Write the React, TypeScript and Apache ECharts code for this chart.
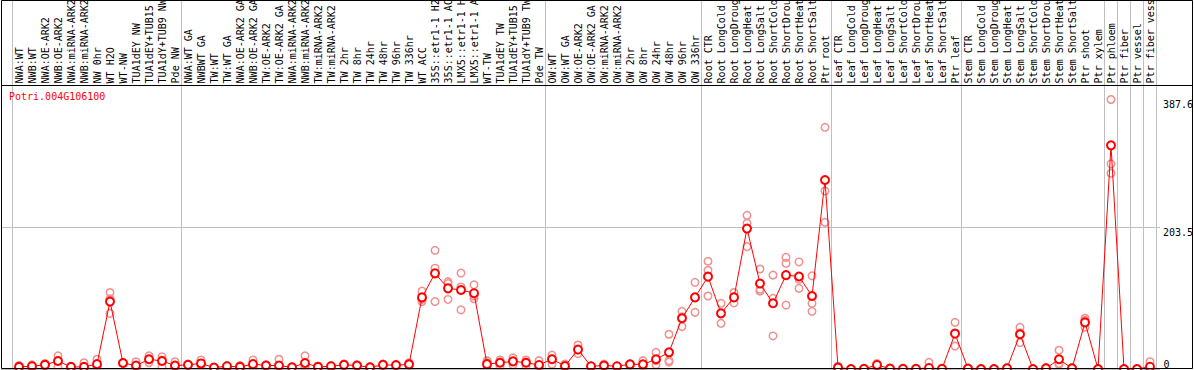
import React, { useEffect, useRef } from 'react';
import * as echarts from 'echarts';

const TITLE = 'Potri.004G106100';

const categories = [
  'NWA:WT', 'NWB:WT', 'NWA:OE-ARK2', 'NWB:OE-ARK2', 'NWA:miRNA-ARK2', 'NWB:miRNA-ARK2',
  'NW 0hr', 'WT H2O', 'WT-NW', 'TUA1dEY NW', 'TUA1dEY+TUB15 NW', 'TUA1dY+TUB9 NW', 'Pde NW',
  'NWA:WT GA', 'NWBWT GA', 'TW:WT', 'TW:WT GA', 'NWA:OE-ARK2 GA', 'NWB:OE-ARK2 GA',
  'TW:OE-ARK2', 'TW:OE-ARK2 GA', 'NWA:miRNA-ARK2 GA', 'NWB:miRNA-ARK2 GA', 'TW:miRNA-ARK2',
  'TW:miRNA-ARK2 GA', 'TW 2hr', 'TW 8hr', 'TW 24hr', 'TW 48hr', 'TW 96hr', 'TW 336hr',
  'WT ACC', '35S::etr1-1 H2O', '35S::etr1-1 ACC', 'LMX5::etr1-1 H2O', 'LMX5::etr1-1 ACC',
  'WT-TW', 'TUA1dEY TW', 'TUA1dEY+TUB15 TW', 'TUA1dY+TUB9 TW', 'Pde TW',
  'OW:WT', 'OW:WT GA', 'OW:OE-ARK2', 'OW:OE-ARK2 GA', 'OW:miRNA-ARK2', 'OW:miRNA-ARK2 GA',
  'OW 2hr', 'OW 8hr', 'OW 24hr', 'OW 48hr', 'OW 96hr', 'OW 336hr',
  'Root CTR', 'Root LongCold', 'Root LongDrought', 'Root LongHeat', 'Root LongSalt',
  'Root ShortCold', 'Root ShortDrought', 'Root ShortHeat', 'Root ShortSalt', 'Ptr root',
  'Leaf CTR', 'Leaf LongCold', 'Leaf LongDrought', 'Leaf LongHeat', 'Leaf LongSalt',
  'Leaf ShortCold', 'Leaf ShortDrought', 'Leaf ShortHeat', 'Leaf ShortSalt', 'Ptr leaf',
  'Stem CTR', 'Stem LongCold', 'Stem LongDrought', 'Stem LongHeat', 'Stem LongSalt',
  'Stem ShortCold', 'Stem ShortDrought', 'Stem ShortHeat', 'Stem ShortSalt', 'Ptr shoot',
  'Ptr xylem', 'Ptr phloem', 'Ptr fiber', 'Ptr vessel', 'Ptr fiber vessel',
];

const meanValues = [
  3, 4, 6, 11.5, 3, 3, 7, 97, 8.6, 5,
  14, 11.5, 5, 6, 8, 2, 4, 3, 7, 5,
  5, 2.5, 8.6, 3, 4, 6, 5, 2.5, 6, 5.5,
  6.7, 103, 137.6, 116, 113.6, 109, 7, 9, 11, 9,
  5.8, 14, 4.3, 28, 4, 5, 4, 6.7, 6.7, 14,
  24, 73, 103, 132.8, 80, 103, 202, 123, 94.5, 135,
  133, 105, 271.8, 2, 0, 0.3, 5.8, 0.5, 0.2, 0.2,
  1.5, 0.3, 50.8, 0.5, 0, 0, 1, 50, 0, 1,
  14, 1, 67, 0, 321.7, 0, 0, 3.3,
];

const rep1 = [
  5, 6, 8, 19, 3, 9, 14, 110, 9, 10.5,
  19, 17.7, 10.5, 7, 13, 2, 5, 5, 13, 6,
  14, 3, 19, 4, 5, 7, 6, 3, 7, 6,
  9, 112, 170.7, 125.6, 138, 121, 12, 13, 16, 13,
  12, 20, 7, 34.5, 4, 7, 4, 7, 12, 24,
  50, 83, 124.7, 155, 94.5, 110, 221, 143.8, 135, 160.6,
  154, 134, 347.6, 4, 0, 0.5, 8, 1, 0.3, 0.3,
  9.6, 0.5, 67, 1, 0, 0, 2, 60, 0, 2,
  27, 2, 73, 0, 387.6, 0, 0, 10.5,
];

const rep2 = [
  2, 3, 5, 12, 3, 1, 5, 101, 8, 3,
  14, 13, 3, 6, 7, 2, 4, 2, 6, 5,
  1, 2.5, 5, 3, 4, 6, 5, 2.5, 6, 5.5,
  6, 100, 145, 123, 118, 105, 9, 10, 11, 10,
  4, 15, 4, 27.5, 4, 5, 4, 6.7, 5, 12,
  12, 75, 103, 142, 80, 104, 209.6, 114.6, 101.7, 152,
  129, 94.5, 256, 1, 0, 0.3, 6, 0.5, 0.2, 0.2,
  0, 0.3, 52, 0.5, 0, 0, 1, 52, 0, 1,
  8, 1, 70, 0, 295, 0, 0, 0,
];

const rep3 = [
  2, 3, 5, 3, 3, 0, 2, 80, 9, 2,
  9, 3, 2, 5, 4, 2, 3, 2, 2, 4,
  0, 2, 2, 2, 3, 5, 4, 2, 5, 5,
  5, 97, 97, 100, 85, 101, 0, 4, 6, 4,
  1.5, 7, 2, 22, 4, 3, 4, 6.4, 3, 6,
  10, 61, 81.5, 105, 65.7, 95, 176, 112, 47.5, 92,
  116, 83, 211, 1, 0, 0, 3.5, 0, 0, 0,
  0, 0, 33, 0, 0, 0, 0, 38, 0, 0,
  7, 0, 60, 0, 281.5, 0, 0, 0,
];

const groupStarts = [0, 13, 41, 53, 63, 73, 84, 85, 86, 87];
const yMax = 405;
const yGridValues = [0, 203.5];
const yLabelsUpper = [203.5, 387.6];
const yLabelsLower = [0];

const MONO = 'DejaVu Sans Mono';
const RED = '#ff0000';
const PINK = '#f09090';
const GRAY = '#c0c0c0';

export default function App() {
  const ref = useRef<HTMLDivElement>(null);

  useEffect(() => {
    if (!ref.current) return;
    const chart = echarts.init(ref.current, null, { renderer: 'svg' });

    const repSeries = (data: number[], name: string) => ({
      type: 'scatter',
      name,
      xAxisIndex: 0,
      yAxisIndex: 0,
      data,
      symbol: 'circle',
      symbolSize: 7.5,
      itemStyle: { color: 'rgba(255,255,255,0)', borderColor: PINK, borderWidth: 1.5, opacity: 1 },
      z: 2,
      silent: true,
    });

    chart.setOption({
      animation: false,
      title: {
        text: TITLE,
        left: 9,
        top: 91,
        padding: 0,
        textStyle: { color: RED, fontSize: 10, fontFamily: MONO, fontWeight: 'normal' },
      },
      grid: [
        { left: 12.5, right: 37.5, top: 87.4, bottom: 1, containLabel: false, outerBoundsMode: 'none' },
        { left: 12.5, right: 37.5, top: 0, bottom: 1, containLabel: false, outerBoundsMode: 'none' },
        { left: 1, right: 34, top: 87.4, bottom: 1, containLabel: false, outerBoundsMode: 'none' },
      ],
      xAxis: [
        {
          gridIndex: 0,
          type: 'category',
          data: categories,
          position: 'top',
          boundaryGap: true,
          axisLine: { show: false },
          axisTick: { show: false },
          splitLine: { show: false },
          axisLabel: { interval: 0, rotate: 90, margin: 4, fontFamily: MONO, fontSize: 10, color: '#000' },
        },
        {
          gridIndex: 1,
          type: 'category',
          data: categories,
          boundaryGap: true,
          axisLine: { show: false },
          axisTick: { show: false },
          axisLabel: { show: false },
          splitLine: {
            show: true,
            interval: (i: number) => groupStarts.includes(i),
            lineStyle: { color: GRAY, width: 1 },
          },
        },
        { gridIndex: 2, type: 'value', show: false, min: 0, max: 1 },
      ],
      yAxis: [
        {
          gridIndex: 0,
          type: 'value',
          min: 0,
          max: yMax,
          position: 'right',
          axisLine: { show: false },
          axisTick: { show: false },
          splitLine: { show: false },
          axisLabel: {
            customValues: yLabelsLower,
            verticalAlign: 'bottom',
            margin: 7,
            fontFamily: MONO,
            fontSize: 10,
            color: '#000',
          },
        },
        { gridIndex: 1, type: 'value', show: false, min: 0, max: 1 },
        {
          gridIndex: 2,
          type: 'value',
          min: 0,
          max: yMax,
          interval: 203.5,
          position: 'right',
          axisLine: { show: false },
          axisTick: { show: false, customValues: yGridValues },
          splitLine: { show: true, lineStyle: { color: GRAY, width: 1 } },
          axisLabel: {
            customValues: yLabelsUpper,
            verticalAlign: 'top',
            margin: 3,
            fontFamily: MONO,
            fontSize: 10,
            color: '#000',
          },
        },
      ],
      series: [
        repSeries(rep1, 'rep1'),
        repSeries(rep2, 'rep2'),
        repSeries(rep3, 'rep3'),
        {
          type: 'line',
          name: 'mean',
          xAxisIndex: 0,
          yAxisIndex: 0,
          data: meanValues,
          symbol: 'emptyCircle',
          symbolSize: 8,
          showAllSymbol: true,
          clip: false,
          itemStyle: { color: RED, borderColor: RED, borderWidth: 2 },
          lineStyle: { color: RED, width: 1 },
          z: 3,
          silent: true,
        },
      ],
      graphic: [
        {
          type: 'rect',
          z: 100,
          silent: true,
          shape: { x: 1.5, y: 0.5, width: 1191, height: 368 },
          style: { fill: 'none', stroke: '#000', lineWidth: 1 },
        },
        {
          type: 'line',
          z: 100,
          silent: true,
          shape: { x1: 1, y1: 85.5, x2: 1193, y2: 85.5 },
          style: { stroke: '#000', lineWidth: 1 },
        },
      ],
    });

    return () => chart.dispose();
  }, []);

  return (
    <div
      ref={ref}
      style={{ position: 'fixed', left: 0, top: 0, width: 1194, height: 370, background: '#fff' }}
    />
  );
}
